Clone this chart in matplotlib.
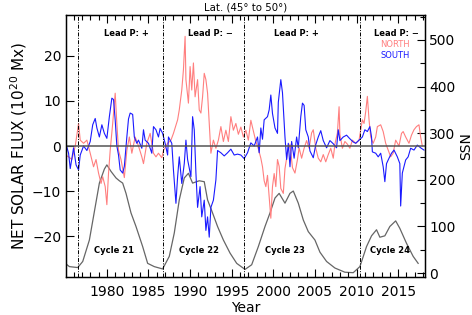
import matplotlib
matplotlib.use("Agg")
import matplotlib.pyplot as plt
from matplotlib.ticker import MultipleLocator

# net flux, northern hemisphere band (10^20 Mx)
north_t = [1975.0, 1975.4, 1975.8, 1976.2, 1976.6, 1976.8, 1977.2, 1977.6, 1978.0, 1978.4,
           1978.7, 1979.0, 1979.3, 1979.5, 1979.8, 1980.0, 1980.2, 1980.4, 1980.7, 1981.0,
           1981.2, 1981.4, 1981.7, 1982.1, 1982.4, 1982.7, 1983.0, 1983.4, 1983.8, 1984.2,
           1984.4, 1984.8, 1985.2, 1985.6, 1985.9, 1986.2, 1986.6, 1986.8, 1987.3, 1987.7,
           1988.0, 1988.5, 1988.7, 1989.0, 1989.2, 1989.4, 1989.5, 1989.8, 1990.0, 1990.2,
           1990.4, 1990.6, 1990.9, 1991.1, 1991.3, 1991.5, 1991.7, 1991.9, 1992.1, 1992.3,
           1992.5, 1992.8, 1993.1, 1993.4, 1993.7, 1994.0, 1994.3, 1994.6, 1994.9, 1995.2,
           1995.5, 1995.8, 1996.1, 1996.4, 1996.7, 1997.0, 1997.3, 1997.7, 1997.9, 1998.2,
           1998.5, 1998.7, 1998.9, 1999.1, 1999.3, 1999.5, 1999.7, 1999.9, 2000.1, 2000.3,
           2000.5, 2000.7, 2000.9, 2001.2, 2001.4, 2001.7, 2002.0, 2002.3, 2002.6, 2002.9,
           2003.1, 2003.4, 2003.7, 2004.0, 2004.3, 2004.6, 2004.8, 2005.1, 2005.4, 2005.7,
           2006.0, 2006.3, 2006.6, 2006.9, 2007.2, 2007.4, 2007.7, 2007.9, 2008.0, 2008.3,
           2008.6, 2008.9, 2009.2, 2009.5, 2009.9, 2010.3, 2010.7, 2010.9, 2011.1, 2011.3,
           2011.5, 2011.7, 2012.0, 2012.3, 2012.5, 2012.9, 2013.2, 2013.5, 2013.8, 2014.1,
           2014.4, 2014.7, 2015.1, 2015.4, 2015.6, 2015.9, 2016.3, 2016.6, 2016.9, 2017.2,
           2017.5, 2017.7, 2017.9]
north_v = [-2.0, -2.4, -3.0, 0.0, 5.0, 1.3, 0.6, 1.3, -1.6, -4.6,
           -3.0, -6.0, -8.3, -6.8, -9.0, -13.0, -6.0, -1.0, 5.0, 11.7,
           5.0, -1.0, -3.0, -7.0, -1.0, 2.0, -1.6, 2.0, 0.0, -2.4,
           -3.9, 0.6, 2.8, -1.6, -2.4, -1.6, -2.6, -1.0, 0.6, 1.3,
           2.8, 5.8, 8.0, 12.4, 16.9, 24.3, 14.7, 9.5, 17.6, 12.4,
           18.4, 10.9, 14.7, 8.0, 7.3, 10.9, 16.1, 14.7, 11.7, 5.0,
           -1.6, 1.3, -0.5, 1.3, 4.3, 1.0, 3.5, 1.0, 6.5, 3.5,
           5.0, 2.6, 4.2, 2.0, 3.5, 1.3, 5.7, 2.5, 1.0, -0.6,
           -2.7, -4.6, -7.7, -9.0, -6.5, -11.3, -16.0, -9.0, -6.1, -9.0,
           -3.0, -4.5, -9.4, -10.5, -5.0, -1.6, 0.4, -4.8, -6.0, -3.0,
           -0.4, -2.7, -0.5, 1.2, -0.5, 2.9, 3.6, -0.5, -2.7, -3.5,
           -1.9, -3.5, -1.9, -0.5, -2.7, 0.4, 2.9, 8.7, 2.6, -0.5,
           1.0, 0.4, -0.5, 1.3, 0.6, 1.3, 5.8, 5.0, 7.6, 11.0,
           5.8, 2.0, 0.6, 2.0, 4.3, 4.7, 3.2, 0.6, -0.9, -2.4,
           -1.6, 1.3, 0.0, 2.8, 3.2, 2.0, 0.6, 2.4, 3.6, 4.3,
           4.7, 2.0, 0.0]

# net flux, southern hemisphere band (10^20 Mx)
south_t = [1975.0, 1975.4, 1975.6, 1976.0, 1976.3, 1976.6, 1976.8, 1977.2, 1977.6, 1978.0,
           1978.3, 1978.6, 1978.8, 1979.1, 1979.4, 1979.7, 1980.0, 1980.3, 1980.6, 1980.8,
           1981.0, 1981.2, 1981.4, 1981.6, 1981.9, 1982.1, 1982.4, 1982.6, 1982.8, 1983.1,
           1983.3, 1983.6, 1983.8, 1984.2, 1984.4, 1984.6, 1985.0, 1985.4, 1985.6, 1985.9,
           1986.2, 1986.4, 1986.7, 1987.0, 1987.3, 1987.4, 1987.8, 1988.0, 1988.3, 1988.5,
           1988.7, 1989.0, 1989.3, 1989.5, 1989.7, 1990.1, 1990.3, 1990.5, 1990.7, 1990.9,
           1991.2, 1991.4, 1991.7, 1991.9, 1992.1, 1992.3, 1992.5, 1992.8, 1993.1, 1993.3,
           1993.7, 1994.1, 1994.5, 1994.9, 1995.3, 1995.7, 1996.1, 1996.5, 1996.9, 1997.3,
           1997.7, 1998.1, 1998.3, 1998.5, 1998.7, 1998.9, 1999.3, 1999.5, 1999.7, 1999.9,
           2000.2, 2000.5, 2000.6, 2000.9, 2001.1, 2001.4, 2001.6, 2001.8, 2002.0, 2002.2,
           2002.5, 2002.8, 2003.0, 2003.3, 2003.5, 2003.7, 2003.9, 2004.2, 2004.4, 2004.8,
           2005.1, 2005.4, 2005.7, 2006.0, 2006.4, 2006.8, 2007.2, 2007.6, 2007.8, 2008.0,
           2008.4, 2008.8, 2009.2, 2009.6, 2009.9, 2010.3, 2010.7, 2011.0, 2011.3, 2011.6,
           2011.8, 2011.9, 2012.3, 2012.6, 2012.9, 2013.2, 2013.4, 2013.6, 2013.9, 2014.2,
           2014.5, 2014.9, 2015.2, 2015.3, 2015.5, 2015.9, 2016.2, 2016.5, 2016.9, 2017.3,
           2017.7, 2018.1]
south_v = [1.0, -1.6, -5.0, -0.4, -4.2, -5.3, -2.0, 0.0, -1.0, 1.0,
           4.7, 6.1, 4.0, 2.0, 4.7, 2.8, 1.7, 6.5, 10.6, 10.3,
           5.8, 0.0, -2.0, -5.3, -6.0, -4.5, 2.0, 6.0, 7.3, 7.0,
           2.0, 0.6, 1.3, -0.5, 3.6, 1.3, 0.6, -1.6, 4.3, 3.6,
           2.0, 3.9, 2.8, 0.6, -2.0, 2.0, 0.6, -5.3, -12.7, -6.8,
           -2.4, -8.3, -3.9, 1.3, -3.0, -6.8, 6.5, 3.6, -6.0, -13.6,
           -9.0, -15.7, -12.0, -18.7, -15.7, -20.2, -13.6, -12.0, -7.5, -1.0,
           -1.5, -2.2, -1.5, -0.7, -2.0, -1.8, -2.0, -2.8, -1.5, 0.7,
           0.0, 2.0, -1.5, 4.0, 1.5, 5.8, 6.5, 8.0, 11.3, 7.2,
           4.0, 2.8, 9.7, 14.7, 11.8, 2.0, -3.0, 0.6, -4.6, 1.0,
           -2.7, 2.0, -0.4, 6.5, 9.5, 9.0, 3.6, 2.0, -1.1, -2.6,
           0.3, 2.0, 3.4, 1.2, -0.4, 1.2, 0.5, -0.4, 3.6, 1.2,
           2.0, 2.4, 1.6, 0.9, 0.6, 1.3, 2.0, 3.6, 3.2, 4.3,
           2.0, -1.3, -1.6, -2.4, -1.6, -4.6, -7.9, -3.9, -2.7, -1.6,
           -0.9, -2.4, -3.9, -13.3, -6.0, -3.1, -2.4, -0.5, -0.9, 0.2,
           -0.4, -0.9]

# smoothed sunspot number
ssn_t = [1975.0, 1975.5, 1976.5, 1977.1, 1977.9, 1978.5, 1979.1, 1979.7, 1980.0, 1980.5,
         1981.1, 1981.5, 1981.9, 1982.3, 1982.9, 1983.5, 1984.3, 1984.9, 1985.7, 1986.7,
         1987.5, 1988.1, 1988.7, 1989.3, 1989.8, 1990.3, 1991.1, 1991.7, 1992.1, 1992.7,
         1993.3, 1994.0, 1994.8, 1995.6, 1996.6, 1997.4, 1998.2, 1999.0, 1999.6, 2000.2,
         2000.7, 2001.4, 2002.0, 2002.4, 2003.0, 2003.6, 2004.2, 2005.0, 2005.6, 2006.4,
         2007.4, 2008.6, 2009.6, 2010.4, 2011.2, 2011.8, 2012.4, 2012.8, 2013.4, 2014.0,
         2014.7, 2015.2, 2016.0, 2016.8, 2017.4]
ssn_v = [21, 14, 12, 25, 71, 132, 193, 223, 232, 218,
         204, 198, 193, 171, 129, 100, 57, 21, 14, 9,
         36, 86, 157, 204, 214, 193, 198, 196, 157, 129,
         100, 71, 43, 21, 8, 18, 57, 100, 129, 161,
         171, 150, 171, 176, 150, 114, 89, 71, 45, 25,
         11, 2, 1, 14, 57, 80, 93, 77, 80, 100,
         112, 96, 64, 36, 21]

cycle_starts = [1976.5, 1986.8, 1996.5, 2010.4]
lead_labels = ["Lead P: +", "Lead P: \u2212", "Lead P: +", "Lead P: \u2212"]
lead_x = [1982.3, 1992.5, 2002.8, 2014.8]
cycle_labels = ["Cycle 21", "Cycle 22", "Cycle 23", "Cycle 24"]
cycle_x = [1980.9, 1991.1, 2001.4, 2014.0]

fig = plt.figure(figsize=(4.72, 3.15), dpi=100)
ax = fig.add_axes([0.140, 0.121, 0.760, 0.831])
ax2 = ax.twinx()

ax2.plot(ssn_t, ssn_v, color="#666666", lw=0.9)
ax.plot(north_t, north_v, color="#ff7f7f", lw=0.8)
ax.plot(south_t, south_v, color="#1a1aff", lw=0.8)
ax.axhline(0, color="#555555", lw=1.1)
for x in cycle_starts:
    ax.axvline(x, color="black", lw=0.7, ls=(0, (4, 1.5, 1, 1.5)))

ax.set_zorder(ax2.get_zorder() + 1)
ax.patch.set_visible(False)

ax.set_xlim(1975.1, 2018.2)
ax.set_ylim(-29, 29)
ax2.set_ylim(-8, 553)

ax.xaxis.set_major_locator(MultipleLocator(5))
ax.xaxis.set_minor_locator(MultipleLocator(1))
ax.yaxis.set_major_locator(MultipleLocator(10))
ax2.yaxis.set_major_locator(MultipleLocator(100))
ax2.yaxis.set_minor_locator(MultipleLocator(50))

ax.tick_params(axis="x", which="both", direction="in", top=True, labelsize=10, pad=6)
ax.tick_params(axis="x", which="major", length=6, width=0.8)
ax.tick_params(axis="x", which="minor", length=3.5, width=0.8)
ax.tick_params(axis="y", which="major", direction="in", length=6, width=0.8, labelsize=10)
ax2.tick_params(axis="y", which="major", direction="in", length=6, width=0.8, labelsize=10, pad=3)
ax2.tick_params(axis="y", which="minor", direction="in", length=3.5, width=0.8)

ax.set_xlabel("Year", fontsize=10, labelpad=1)
ax.set_ylabel("NET SOLAR FLUX (10$^{20}$ Mx)", fontsize=11, labelpad=2)
ax2.set_ylabel("SSN", fontsize=10, labelpad=3)
ax.set_title("Lat. (45\u00b0 to 50\u00b0)", fontsize=7.3, pad=3)

for x, s in zip(lead_x, lead_labels):
    ax.text(x, 25, s, fontsize=6, fontweight="bold", ha="center", va="center")
ax.text(2014.6, 22.4, "NORTH", fontsize=6, color="#ff7f7f", ha="center", va="center")
ax.text(2014.6, 20.0, "SOUTH", fontsize=6, color="#1a1aff", ha="center", va="center")
for x, s in zip(cycle_x, cycle_labels):
    ax.text(x, -23.1, s, fontsize=6, fontweight="bold", ha="center", va="center")

for sp in ax.spines.values():
    sp.set_linewidth(1.0)

fig.savefig("out.png", dpi=100)
